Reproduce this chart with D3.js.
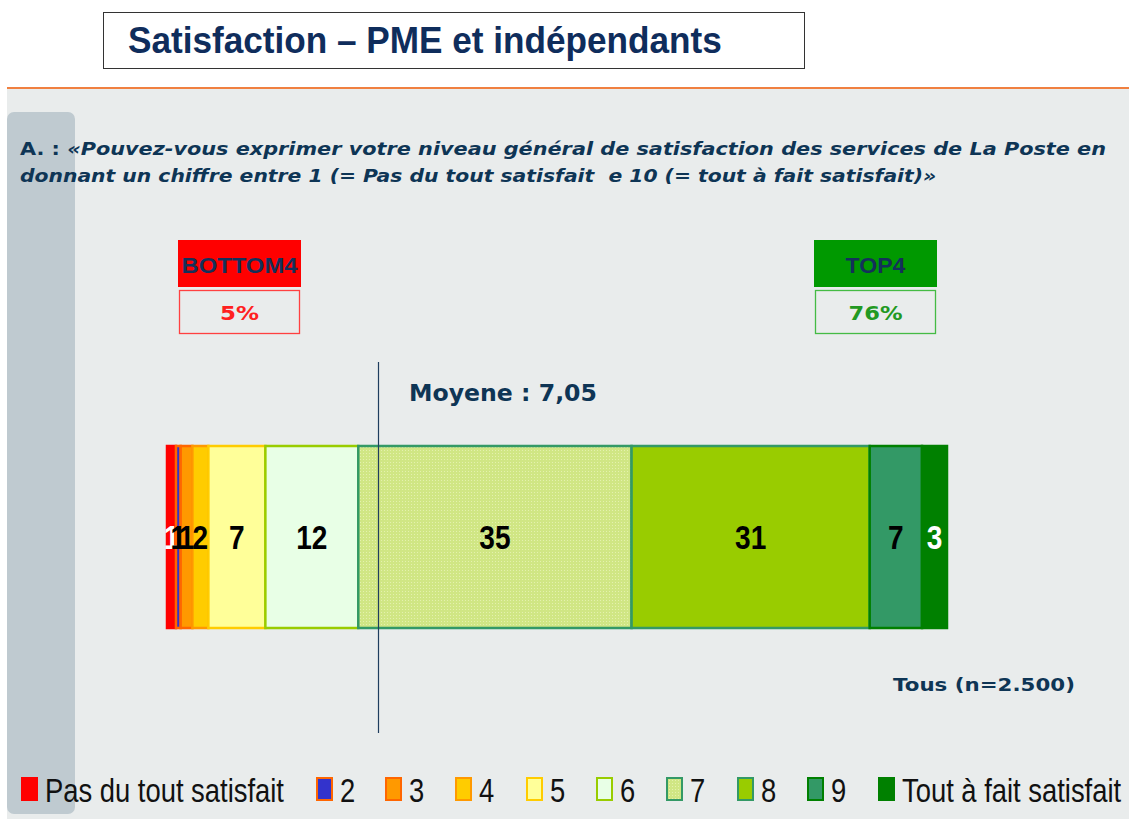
<!DOCTYPE html>
<html><head><meta charset="utf-8">
<script src="https://cdn.jsdelivr.net/npm/d3@7"></script>
<style>html,body{margin:0;padding:0;background:#fff;}svg{display:block;}</style>
</head><body>
<svg id="chart" width="1129" height="819"></svg>
<script>
// ---------- data ----------
const categories = ["Pas du tout satisfait","2","3","4","5","6","7","8","9","Tout à fait satisfait"];
const shares = [1.15, 0.6, 1.5, 2.05, 7.3, 11.9, 35, 30.5, 6.7, 3.2];   // bar widths (%)
const shareLabels = ["1","1","1","2","7","12","35","31","7","3"];     // printed values
const bottomLabel = "BOTTOM4", bottomValue = "5%";
const topLabel = "TOP4", topValue = "76%";
const meanLabel = "Moyene : 7,05";
const baseLabel = "Tous (n=2.500)";
const titleText = "Satisfaction – PME et indépendants";
const questionLine1 = "«Pouvez-vous exprimer votre niveau général de satisfaction des services de La Poste en";
const questionLine2 = "donnant un chiffre entre 1 (= Pas du tout satisfait  e 10 (= tout à fait satisfait)»";

// ---------- styles ----------
const fills = ["#FF0000","#3333CC","#FF9900","#FFCC00","#FFFF99","#E8FFE6","url(#dots7)","#99CC00","#339966","#008000"];
const strokes = ["#FF0000","#FF6600","#FF6600","#FF9900","#FFCC00","#99CC00","#339966","#339966","#008000","#008000"];
const labelColors = ["#fff","#000","#000","#000","#000","#000","#000","#000","#000","#fff"];
const navy = "#0E3555";

const svg = d3.select("#chart");
const defs = svg.append("defs");
const pat = defs.append("pattern").attr("id","dots7").attr("width",3).attr("height",3).attr("patternUnits","userSpaceOnUse");
pat.append("rect").attr("width",3).attr("height",3).attr("fill","#D0E684");
pat.append("rect").attr("width",1).attr("height",1).attr("fill","#E4F1AE");

// helper: horizontally fit text to a width
function fit(sel, width, anchorX) {
  const w = sel.node().getComputedTextLength();
  const k = width / w;
  sel.attr("transform", `translate(${anchorX},0) scale(${k},1) translate(${-anchorX},0)`);
}

// background
svg.append("rect").attr("width",1129).attr("height",819).attr("fill","#fff");
svg.append("rect").attr("x",7).attr("y",88).attr("width",1122).attr("height",731).attr("fill","#E9ECEC");
svg.append("line").attr("x1",7).attr("x2",1129).attr("y1",88).attr("y2",88).attr("stroke","#F08040").attr("stroke-width",2);
svg.append("rect").attr("x",7).attr("y",112).attr("width",68).attr("height",702).attr("rx",7).attr("fill","#BFCAD0");

// title
svg.append("rect").attr("x",103.5).attr("y",12.5).attr("width",701).attr("height",56).attr("fill","#fff").attr("stroke","#333").attr("stroke-width",1);
const t = svg.append("text").attr("x",128).attr("y",53).attr("font-family","Liberation Sans, Arial, sans-serif")
  .attr("font-weight","bold").attr("font-size",37).attr("fill","#0F2D5C").text(titleText);
fit(t, 594, 128);

// question
const q1 = svg.append("text").attr("x",20).attr("y",155).attr("font-family","DejaVu Sans, Verdana, sans-serif")
  .attr("font-weight","bold").attr("font-size",18.5).attr("fill",navy);
q1.append("tspan").text("A. : ");
q1.append("tspan").attr("font-style","italic").text(questionLine1);
fit(q1, 1087, 20);
const q2 = svg.append("text").attr("x",20).attr("y",182).attr("font-family","DejaVu Sans, Verdana, sans-serif")
  .attr("font-weight","bold").attr("font-style","italic").attr("font-size",18.5).attr("fill",navy)
  .style("white-space","pre").text(questionLine2);
fit(q2, 917, 20);

// bottom / top boxes
function box(x, label, value, fillC, strokeC, valueC) {
  svg.append("rect").attr("x",x).attr("y",240).attr("width",123).attr("height",47).attr("fill",fillC);
  const l = svg.append("text").attr("x",x+61.5).attr("y",273).attr("text-anchor","middle")
    .attr("font-family","Liberation Sans, Arial, sans-serif").attr("font-weight","bold").attr("font-size",22)
    .attr("fill","#14305A").text(label);
  svg.append("rect").attr("x",x+1.5).attr("y",290.5).attr("width",120).attr("height",43).attr("fill","none").attr("stroke",strokeC).attr("stroke-width",1.3);
  const v = svg.append("text").attr("x",x+61.5).attr("y",320).attr("text-anchor","middle")
    .attr("font-family","DejaVu Sans, Verdana, sans-serif").attr("font-weight","bold").attr("font-size",20)
    .attr("fill",valueC).text(value);
  return [l, v];
}
const [bl, bv] = box(178, bottomLabel, bottomValue, "#FF0000", "#FF4040", "#FF2020");
fit(bl, 116, 239.5);
fit(bv, 39, 239.5);
const [tl, tv] = box(814, topLabel, topValue, "#009900", "#44BB44", "#229922");
fit(tl, 60, 875.5);
fit(tv, 54, 875.5);

// bar
const x = d3.scaleLinear().domain([0, d3.sum(shares)]).range([167, 947]);
const y = d3.scaleBand().domain(["Tous"]).range([446, 628]).padding(0);
const cum = [];
shares.reduce((acc, v) => { cum.push([acc, acc + v]); return acc + v; }, 0);

const segs = svg.append("g");
segs.selectAll("rect").data(shares).join("rect")
  .attr("x",(d,i)=>x(cum[i][0]))
  .attr("y", y("Tous"))
  .attr("width",(d,i)=>x(cum[i][1]) - x(cum[i][0]))
  .attr("height", y.bandwidth())
  .attr("fill",(d,i)=>fills[i])
  .attr("stroke",(d,i)=>strokes[i]).attr("stroke-width",2.5);

const labY = y("Tous") + y.bandwidth()/2 + 12;
segs.selectAll("text").data(shareLabels).join("text")
  .attr("font-family","Liberation Sans, Arial, sans-serif").attr("font-weight","bold").attr("font-size",33)
  .attr("fill",(d,i)=>labelColors[i]).attr("text-anchor","middle")
  .attr("transform",(d,i)=>`translate(${(x(cum[i][0])+x(cum[i][1]))/2},${labY}) scale(0.85,1)`)
  .text(d=>d);

// mean line & label
svg.append("line").attr("x1",378.5).attr("x2",378.5).attr("y1",362).attr("y2",733).attr("stroke","#1F3D5E").attr("stroke-width",1.2);
const ml = svg.append("text").attr("x",409).attr("y",401).attr("font-family","DejaVu Sans, Verdana, sans-serif")
  .attr("font-weight","bold").attr("font-size",23).attr("fill",navy).text(meanLabel);
fit(ml, 188, 409);

// base label
const bt = svg.append("text").attr("x",893).attr("y",691).attr("font-family","DejaVu Sans, Verdana, sans-serif")
  .attr("font-weight","bold").attr("font-size",18).attr("fill",navy).text(baseLabel);
fit(bt, 182, 893);

// legend
const legendX = [21, 316, 385, 455, 526, 596, 666, 737, 807, 878];
const lg = svg.append("g").selectAll("g").data(categories).join("g");
lg.append("rect").attr("x",(d,i)=>legendX[i]+1).attr("y",778).attr("width",15).attr("height",22)
  .attr("fill",(d,i)=>fills[i]).attr("stroke",(d,i)=>strokes[i]).attr("stroke-width",2);
lg.append("text")
  .attr("font-family","Liberation Sans, Arial, sans-serif").attr("font-size",33).attr("fill","#111")
  .attr("transform",(d,i)=>`translate(${legendX[i]+24},802) scale(0.83,1)`)
  .text(d=>d);
</script>
</body></html>
